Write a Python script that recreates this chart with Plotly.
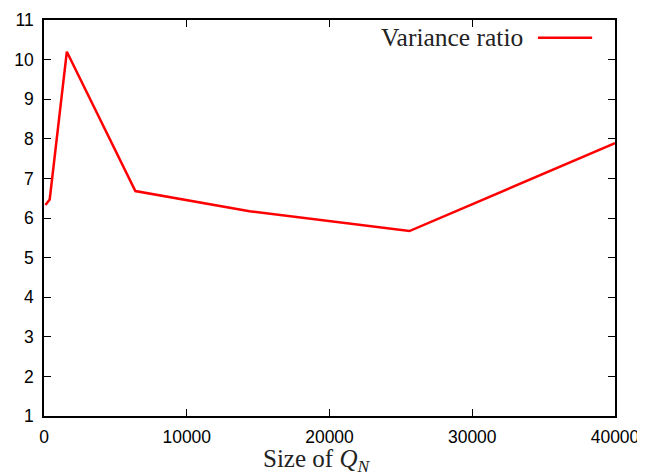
import plotly.graph_objects as go

size_qn = [100, 400, 1600, 6400, 14400, 25600, 40000]
variance_ratio = [6.33, 6.47, 10.2, 6.68, 6.17, 5.67, 7.89]
x_ticks = [0, 10000, 20000, 30000, 40000]
y_ticks = list(range(1, 12))

fig = go.Figure()
fig.add_trace(go.Scatter(x=size_qn, y=variance_ratio, mode="lines",
                         line=dict(color="#ff0000", width=2.5),
                         name="Variance ratio", showlegend=False))

axis_common = dict(showgrid=False, zeroline=False, showline=True, linecolor="black",
                   linewidth=1.5, mirror="ticks", ticks="inside", ticklen=7,
                   tickwidth=1.2, tickcolor="black", automargin=False,
                   tickfont=dict(family="Liberation Sans, Arial", size=17.5, color="black"))

fig.update_xaxes(range=[0, 40000], tickvals=x_ticks, ticktext=[str(v) for v in x_ticks],
                 ticklabelstandoff=4, **axis_common)
fig.update_yaxes(range=[1, 11], tickvals=y_ticks, ticktext=[str(v) for v in y_ticks],
                 ticklabelstandoff=5, **axis_common)

# x-axis title
fig.add_annotation(x=0.478, y=-0.068, xref="paper", yref="paper", xanchor="center",
                   yanchor="top", showarrow=False,
                   text="Size of <i>Q</i><sub><i>N</i></sub>",
                   font=dict(family="Liberation Serif, serif", size=25, color="#222"))

# legend key (text left, sample line right), gnuplot style
fig.add_annotation(x=0.842, y=0.955, xref="paper", yref="paper", xanchor="right",
                   yanchor="middle", text="Variance ratio", showarrow=False,
                   font=dict(family="Liberation Serif, serif", size=25.5, color="#222"))
fig.add_shape(type="line", xref="paper", yref="paper", x0=0.865, x1=0.960,
              y0=0.955, y1=0.955, line=dict(color="#ff0000", width=2.5))

# page body adds an 8px offset, so the figure is sized to fit the window
fig.update_layout(width=637, height=468, plot_bgcolor="white", paper_bgcolor="white",
                  margin=dict(l=36, r=30, t=12, b=60))

fig.write_html("out.html")
